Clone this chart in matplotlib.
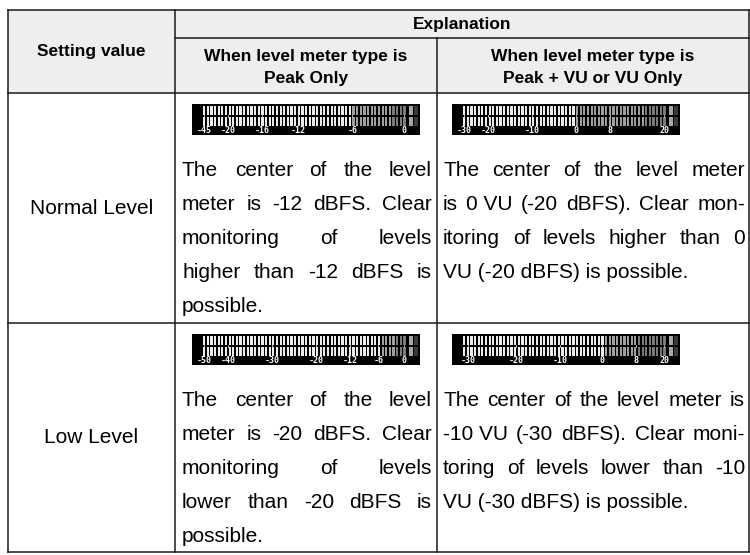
import matplotlib
matplotlib.use("Agg")
import matplotlib.pyplot as plt
from matplotlib.patches import Rectangle

# ---- table text ----
header_setting = "Setting value"
header_explanation = "Explanation"
header_peak = ["When level meter type is", "Peak Only"]
header_vu = ["When level meter type is", "Peak + VU or VU Only"]
settings = ["Normal Level", "Low Level"]

# "~" marks a space that is not stretched when justifying
text_peak = [
    ["The center of the level", "meter is -12 dBFS. Clear", "monitoring of levels",
     "higher than -12 dBFS is", "possible."],
    ["The center of the level", "meter is -20 dBFS. Clear", "monitoring of levels",
     "lower than -20 dBFS is", "possible."],
]
text_vu = [
    ["The center of the level meter", "is 0~VU (-20 dBFS). Clear mon-",
     "itoring of levels higher than 0", "VU (-20 dBFS) is possible."],
    ["The center of the level meter is", "-10~VU (-30 dBFS). Clear moni-",
     "toring of levels lower than -10", "VU (-30 dBFS) is possible."],
]

# ---- level meter scales (label, position along the bar 0..1) ----
peak_normal_labels = ["-45", "-20", "-16", "-12", "-6", "0"]
peak_normal_pos = [0.0, 0.12, 0.29, 0.47, 0.74, 1.0]
vu_normal_labels = ["-30", "-20", "-10", "0", "8", "20"]
vu_normal_pos = [0.0, 0.12, 0.34, 0.56, 0.73, 1.0]
peak_low_labels = ["-50", "-40", "-30", "-20", "-12", "-6", "0"]
peak_low_pos = [0.0, 0.12, 0.34, 0.56, 0.73, 0.87, 1.0]
vu_low_labels = ["-30", "-20", "-10", "0", "8", "20"]
vu_low_pos = [0.02, 0.26, 0.48, 0.69, 0.86, 1.0]
# where bar segments turn grey / dark grey
gray_start = [0.74, 0.56, 0.87, 0.69]
dark_start = [0.93, 0.90, 0.95, 0.86]

W, H = 750, 555
fig = plt.figure(figsize=(W / 100, H / 100), dpi=100)
ax = fig.add_axes([0, 0, 1, 1])
ax.set_xlim(0, W)
ax.set_ylim(H, 0)
ax.axis("off")

FONT = "Liberation Sans"
FS = 15
HFS = 12.5
LC = "#1a1a1a"
LW = 1.1

xs = [8, 175, 437, 749]
y_top, y_h1, y_h2, y_r1, y_bot = 10, 38, 93, 323, 552

# header background
ax.add_patch(Rectangle((xs[0], y_top), xs[3] - xs[0], y_h2 - y_top,
                       facecolor="#eeeeee", edgecolor="none", zorder=0))

# grid lines
for y in [y_top, y_h2, y_r1, y_bot]:
    ax.plot([xs[0], xs[3]], [y, y], color=LC, lw=LW, solid_capstyle="projecting")
ax.plot([xs[1], xs[3]], [y_h1, y_h1], color=LC, lw=LW)
for x in [xs[0], xs[1], xs[3]]:
    ax.plot([x, x], [y_top, y_bot], color=LC, lw=LW)
ax.plot([xs[2], xs[2]], [y_h1, y_bot], color=LC, lw=LW)

# header texts
bold = dict(fontfamily=FONT, fontsize=HFS, fontweight="bold", ha="center", va="center")
ax.text((xs[0] + xs[1]) / 2, (y_top + y_h2) / 2, header_setting, **bold)
ax.text((xs[1] + xs[3]) / 2, (y_top + y_h1) / 2 + 1, header_explanation, **bold)
for i, line in enumerate(header_peak):
    ax.text((xs[1] + xs[2]) / 2, 57 + 22 * i, line, **bold)
for i, line in enumerate(header_vu):
    ax.text((xs[2] + xs[3]) / 2, 57 + 22 * i, line, **bold)

renderer = fig.canvas.get_renderer()


def justify(lines, x0, x1, y0, dy):
    for i, line in enumerate(lines):
        y = y0 + i * dy
        words = [w.replace("~", " ") for w in line.split(" ")]
        last = i == len(lines) - 1
        if last or len(words) == 1:
            ax.text(x0, y, " ".join(words), fontfamily=FONT, fontsize=FS,
                    ha="left", va="baseline")
            continue
        arts = [ax.text(0, y, w, fontfamily=FONT, fontsize=FS, ha="left",
                        va="baseline") for w in words]
        widths = [a.get_window_extent(renderer).width for a in arts]
        gap = (x1 - x0 - sum(widths)) / (len(words) - 1)
        x = x0
        for a, w in zip(arts, widths):
            a.set_x(x)
            x += w + gap


def meter(x0, y0, labels, pos, g0, d0):
    mw, mh = 228, 31
    ax.add_patch(Rectangle((x0, y0), mw, mh, facecolor="black", edgecolor="none"))
    bx0, bx1 = x0 + 11, x0 + 215
    n = 56
    step = (bx1 - bx0) / n
    for row_y in (y0 + 2, y0 + 13):
        for k in range(n):
            f = (k + 0.5) / n
            c = "#ececec" if f < g0 else ("#a0a0a0" if f < d0 else "#7a7a7a")
            ax.add_patch(Rectangle((bx0 + k * step, row_y), step * 0.62, 9,
                                   facecolor=c, edgecolor="none"))
        ax.add_patch(Rectangle((x0 + 217, row_y), 4, 9, facecolor="#a8a8a8", edgecolor="none"))
        ax.add_patch(Rectangle((x0 + 222, row_y), 4, 9, facecolor="#3a3a3a", edgecolor="none"))
    for lab, p in zip(labels, pos):
        tx = bx0 + p * (bx1 - bx0 - step) + step * 0.3
        ax.plot([tx, tx], [y0 + 11.3, y0 + 12.5], color="#cccccc", lw=0.6)
        ax.text(tx, y0 + 26.5, lab, color="white", fontfamily="DejaVu Sans Mono",
                fontsize=6, fontweight="bold", ha="center", va="center")


row_tops = [y_h2, y_r1]
meters_peak = [(peak_normal_labels, peak_normal_pos), (peak_low_labels, peak_low_pos)]
meters_vu = [(vu_normal_labels, vu_normal_pos), (vu_low_labels, vu_low_pos)]
for r, top in enumerate(row_tops):
    bottom = row_tops[r + 1] if r == 0 else y_bot
    ax.text((xs[0] + xs[1]) / 2, (top + bottom) / 2, settings[r], fontfamily=FONT,
            fontsize=FS, ha="center", va="center")
    meter(xs[1] + 17, top + 11, *meters_peak[r], gray_start[2 * r], dark_start[2 * r])
    meter(xs[2] + 15, top + 11, *meters_vu[r], gray_start[2 * r + 1], dark_start[2 * r + 1])
    justify(text_peak[r], xs[1] + 7, xs[2] - 5, top + 83, 34)
    justify(text_vu[r], xs[2] + 6, xs[3] - 4, top + 83, 34)

fig.savefig("out.png", dpi=100, facecolor="white")
